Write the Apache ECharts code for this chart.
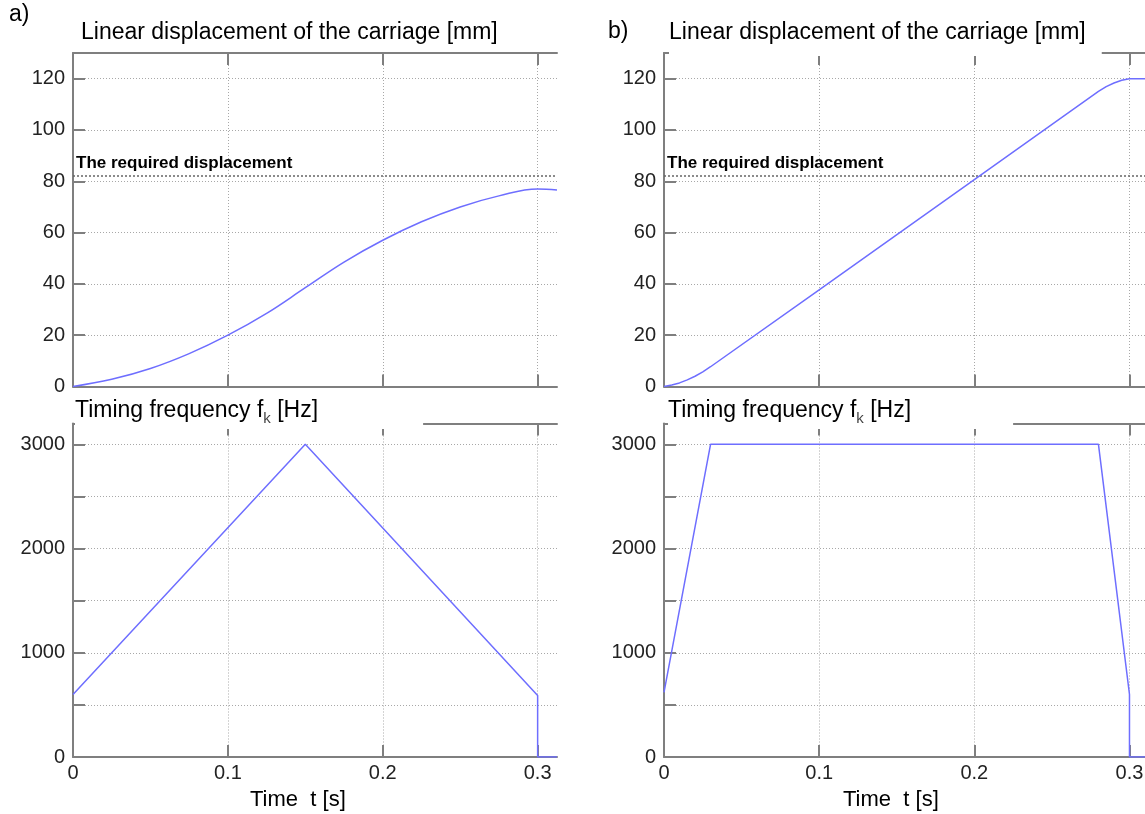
<!DOCTYPE html>
<html>
<head>
<meta charset="utf-8">
<title>Carriage displacement and timing frequency</title>
<script src="https://cdn.jsdelivr.net/npm/echarts@6/dist/echarts.min.js"></script>
<style>
  html, body {
    margin: 0;
    padding: 0;
    background: #fff;
  }
  #chart {
    width: 1145px;
    height: 814px;
  }
</style>
</head>
<body>
<div id="chart"></div>
<script>
// a) triangular frequency profile
let timeDispA = [0, 0.025, 0.05, 0.075, 0.1, 0.125, 0.15, 0.175, 0.2, 0.225, 0.25, 0.275, 0.3, 0.3125]
let dispA = [0, 2.8, 7, 12.8, 20, 28.5, 38.5, 48.5, 57, 64.2, 70, 74.3, 77, 76.6]
let timeFreqA = [0, 0.15, 0.3, 0.3, 0.3125]
let freqA = [600, 3000, 590, 0, 0]

// b) trapezoidal frequency profile
let timeDispB = [0, 0.005, 0.01, 0.015, 0.02, 0.025, 0.03, 0.1, 0.2, 0.28, 0.285, 0.29, 0.295, 0.3, 0.31]
let dispB = [0, 0.6, 1.4, 2.6, 4, 5.7, 7.7, 37.7, 80.6, 115, 116.9, 118.3, 119.4, 120, 120]
let timeFreqB = [0, 0.03, 0.28, 0.3, 0.3, 0.31]
let freqB = [620, 3000, 3000, 600, 0, 0]

let requiredDisp = 82

// ticks
let timeTicks = [0.1, 0.2, 0.3]
let timeLabels = [0, 0.1, 0.2, 0.3]
let dispTicks = [20, 40, 60, 80, 100, 120]
let dispLabels = [0, 20, 40, 60, 80, 100, 120]
let freqTicks = [500, 1000, 1500, 2000, 2500, 3000]
let freqLabels = [0, 1000, 2000, 3000]

const zip = (xs, ys) => xs.map((x, i) => [x, ys[i]])

const FONT = 'Liberation Sans, Arial, sans-serif'
const AXIS_COLOR = '#7f7f7f'
const LINE_COLOR = '#6e6eff'

let gridLine = {
  show: true,
  lineStyle: { color: '#a8a8a8', type: [1, 2], width: 1 }
}

function xAxisFor (gridIndex, max, withLabels) {
  return {
    type: 'value',
    gridIndex: gridIndex,
    position: 'bottom',
    min: 0,
    max: max,
    axisLine: { show: true, onZero: false, lineStyle: { color: AXIS_COLOR, width: 2 } },
    axisTick: { show: true, inside: true, length: 12, customValues: timeTicks, lineStyle: { color: AXIS_COLOR, width: 2 } },
    axisLabel: {
      show: withLabels,
      customValues: timeLabels,
      margin: 6,
      fontFamily: FONT,
      fontSize: 20,
      color: '#222',
      formatter: v => String(v)
    },
    splitLine: gridLine
  }
}

function topAxisFor (gridIndex, max) {
  return {
    type: 'value',
    gridIndex: gridIndex,
    position: 'top',
    min: 0,
    max: max,
    axisLine: { show: true, onZero: false, lineStyle: { color: AXIS_COLOR, width: 2 } },
    axisTick: { show: true, inside: true, length: 12, customValues: timeTicks, lineStyle: { color: AXIS_COLOR, width: 2 } },
    axisLabel: { show: false },
    splitLine: { show: false }
  }
}

function yAxisFor (gridIndex, max, ticks, labels) {
  return {
    type: 'value',
    gridIndex: gridIndex,
    min: 0,
    max: max,
    axisLine: { show: true, onZero: false, lineStyle: { color: AXIS_COLOR, width: 2 } },
    axisTick: { show: true, inside: true, length: 12, customValues: ticks, lineStyle: { color: AXIS_COLOR, width: 2 } },
    axisLabel: {
      customValues: labels,
      margin: 8,
      fontFamily: FONT,
      fontSize: 20,
      color: '#222',
      formatter: v => String(v)
    },
    splitLine: gridLine
  }
}

function lineSeries (axisIndex, data, smooth, extra) {
  return Object.assign({
    type: 'line',
    xAxisIndex: axisIndex,
    yAxisIndex: axisIndex,
    data: data,
    smooth: smooth,
    showSymbol: false,
    symbol: 'none',
    lineStyle: { color: LINE_COLOR, width: 1.5 },
    itemStyle: { color: LINE_COLOR },
    z: 5
  }, extra || {})
}

function requiredLine () {
  return {
    silent: true,
    symbol: 'none',
    label: { show: false },
    lineStyle: { color: '#666', type: [2, 2], width: 1.5 },
    data: [{ yAxis: requiredDisp }]
  }
}

let titleStyle = { fontFamily: FONT, fontSize: 23, fontWeight: 'normal', color: '#000' }
let freqTitle = {
  fontFamily: FONT,
  fontSize: 23,
  fontWeight: 'normal',
  color: '#000',
  rich: {
    k: { fontFamily: FONT, fontSize: 15, color: '#444', verticalAlign: 'bottom', lineHeight: 15, padding: [0, 0, -4, 0] }
  }
}
let noteStyle = { fontFamily: FONT, fontSize: 17, fontWeight: 'bold', color: '#000' }
let timeStyle = { fontFamily: FONT, fontSize: 22, fontWeight: 'normal', color: '#000' }

let option = {
  backgroundColor: '#fff',
  animation: false,
  title: [
    { text: 'a)', left: 9, top: 3, padding: 0, textStyle: titleStyle },
    { text: 'b)', left: 608, top: 20, padding: 0, textStyle: titleStyle },
    { text: 'Linear displacement of the carriage [mm]', left: 81, top: 21, padding: 0, textStyle: titleStyle },
    { text: 'Linear displacement of the carriage [mm]', left: 669, top: 21, padding: [0, 16, 12, 0], backgroundColor: '#fff', textStyle: titleStyle },
    { text: 'Timing frequency f{k|k} [Hz]', left: 75, top: 399, padding: [0, 105, 3, 0], backgroundColor: '#fff', textStyle: freqTitle },
    { text: 'Timing frequency f{k|k} [Hz]', left: 668, top: 399, padding: [0, 102, 3, 0], backgroundColor: '#fff', textStyle: freqTitle },
    { text: 'The required displacement', left: 76, top: 155, padding: 0, textStyle: noteStyle },
    { text: 'The required displacement', left: 667, top: 155, padding: 0, textStyle: noteStyle },
    { text: 'Time  t [s]', left: 250, top: 789, padding: 0, textStyle: timeStyle },
    { text: 'Time  t [s]', left: 843, top: 789, padding: 0, textStyle: timeStyle }
  ],
  grid: [
    { left: 73, top: 53, width: 484, height: 333.5, outerBoundsMode: 'none' },
    { left: 73, top: 423.5, width: 484, height: 333.5, outerBoundsMode: 'none' },
    { left: 664, top: 53, width: 481, height: 333.5, outerBoundsMode: 'none' },
    { left: 664, top: 423.5, width: 481, height: 333.5, outerBoundsMode: 'none' }
  ],
  xAxis: [
    xAxisFor(0, 0.3125, false),
    xAxisFor(1, 0.3125, true),
    xAxisFor(2, 0.31, false),
    xAxisFor(3, 0.31, true),
    topAxisFor(0, 0.3125),
    topAxisFor(1, 0.3125),
    topAxisFor(2, 0.31),
    topAxisFor(3, 0.31)
  ],
  yAxis: [
    yAxisFor(0, 130, dispTicks, dispLabels),
    yAxisFor(1, 3200, freqTicks, freqLabels),
    yAxisFor(2, 130, dispTicks, dispLabels),
    yAxisFor(3, 3200, freqTicks, freqLabels)
  ],
  series: [
    lineSeries(0, zip(timeDispA, dispA), 0.4, { markLine: requiredLine() }),
    lineSeries(1, zip(timeFreqA, freqA), false),
    lineSeries(2, zip(timeDispB, dispB), false, { markLine: requiredLine() }),
    lineSeries(3, zip(timeFreqB, freqB), false)
  ]
}

let chart = echarts.init(document.getElementById('chart'), null, { renderer: 'canvas' })
chart.setOption(option)
</script>
</body>
</html>
